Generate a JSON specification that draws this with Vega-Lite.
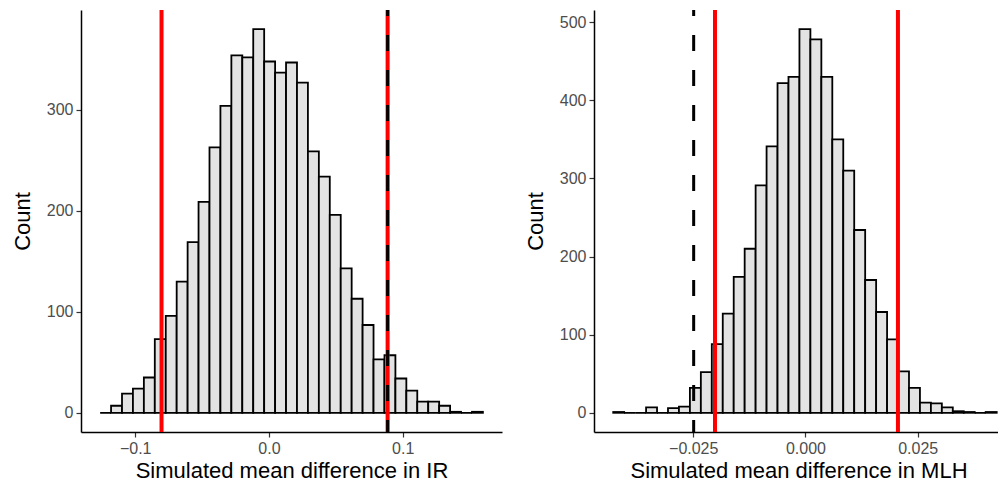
{
  "$schema": "https://vega.github.io/schema/vega-lite/v6.json",
  "background": "white",
  "padding": {"left": 11, "top": 8, "right": 0, "bottom": 5},
  "spacing": 22,
  "config": {
    "view": {"stroke": null},
    "font": "Liberation Sans",
    "axis": {
      "grid": false,
      "domainColor": "black",
      "domainWidth": 1.5,
      "tickColor": "#333333",
      "tickWidth": 1.2,
      "tickSize": 5,
      "labelColor": "#4d4d4d",
      "labelFontSize": 16,
      "labelFont": "Liberation Sans",
      "labelPadding": 3,
      "titleFontSize": 22,
      "titleFontWeight": "normal",
      "titleColor": "black",
      "titleFont": "Liberation Sans"
    }
  },
  "datasets": {
    "ir": [
      {"b0": -0.12620, "b1": -0.11803, "count": 0},
      {"b0": -0.11803, "b1": -0.10985, "count": 7},
      {"b0": -0.10985, "b1": -0.10168, "count": 19},
      {"b0": -0.10168, "b1": -0.09350, "count": 24},
      {"b0": -0.09350, "b1": -0.08533, "count": 35},
      {"b0": -0.08533, "b1": -0.07715, "count": 73},
      {"b0": -0.07715, "b1": -0.06898, "count": 96},
      {"b0": -0.06898, "b1": -0.06080, "count": 130},
      {"b0": -0.06080, "b1": -0.05263, "count": 169},
      {"b0": -0.05263, "b1": -0.04445, "count": 209},
      {"b0": -0.04445, "b1": -0.03628, "count": 263},
      {"b0": -0.03628, "b1": -0.02810, "count": 304},
      {"b0": -0.02810, "b1": -0.01993, "count": 354},
      {"b0": -0.01993, "b1": -0.01175, "count": 352},
      {"b0": -0.01175, "b1": -0.00358, "count": 380},
      {"b0": -0.00358, "b1": 0.00460, "count": 348},
      {"b0": 0.00460, "b1": 0.01277, "count": 337},
      {"b0": 0.01277, "b1": 0.02095, "count": 347},
      {"b0": 0.02095, "b1": 0.02912, "count": 327},
      {"b0": 0.02912, "b1": 0.03730, "count": 259},
      {"b0": 0.03730, "b1": 0.04547, "count": 234},
      {"b0": 0.04547, "b1": 0.05365, "count": 196},
      {"b0": 0.05365, "b1": 0.06182, "count": 143},
      {"b0": 0.06182, "b1": 0.07000, "count": 113},
      {"b0": 0.07000, "b1": 0.07817, "count": 87},
      {"b0": 0.07817, "b1": 0.08635, "count": 53},
      {"b0": 0.08635, "b1": 0.09452, "count": 57},
      {"b0": 0.09452, "b1": 0.10270, "count": 34},
      {"b0": 0.10270, "b1": 0.11087, "count": 22},
      {"b0": 0.11087, "b1": 0.11905, "count": 11},
      {"b0": 0.11905, "b1": 0.12722, "count": 11},
      {"b0": 0.12722, "b1": 0.13540, "count": 7},
      {"b0": 0.13540, "b1": 0.14357, "count": 1},
      {"b0": 0.14357, "b1": 0.15175, "count": 0},
      {"b0": 0.15175, "b1": 0.15992, "count": 1}
    ],
    "irLines": [
      {"x": -0.0803, "kind": "ci"},
      {"x": 0.0887, "kind": "ci"}
    ],
    "irObs": [{"x": 0.0887}],
    "mlh": [
      {"b0": -0.04282, "b1": -0.04038, "count": 1},
      {"b0": -0.04038, "b1": -0.03794, "count": 0},
      {"b0": -0.03794, "b1": -0.03550, "count": 0},
      {"b0": -0.03550, "b1": -0.03306, "count": 7},
      {"b0": -0.03306, "b1": -0.03062, "count": 0},
      {"b0": -0.03062, "b1": -0.02818, "count": 6},
      {"b0": -0.02818, "b1": -0.02574, "count": 8},
      {"b0": -0.02574, "b1": -0.02330, "count": 32},
      {"b0": -0.02330, "b1": -0.02086, "count": 52},
      {"b0": -0.02086, "b1": -0.01842, "count": 88},
      {"b0": -0.01842, "b1": -0.01598, "count": 127},
      {"b0": -0.01598, "b1": -0.01354, "count": 174},
      {"b0": -0.01354, "b1": -0.01110, "count": 210},
      {"b0": -0.01110, "b1": -0.00866, "count": 291},
      {"b0": -0.00866, "b1": -0.00622, "count": 341},
      {"b0": -0.00622, "b1": -0.00378, "count": 422},
      {"b0": -0.00378, "b1": -0.00134, "count": 430},
      {"b0": -0.00134, "b1": 0.00110, "count": 491},
      {"b0": 0.00110, "b1": 0.00354, "count": 478},
      {"b0": 0.00354, "b1": 0.00598, "count": 430},
      {"b0": 0.00598, "b1": 0.00842, "count": 350},
      {"b0": 0.00842, "b1": 0.01086, "count": 310},
      {"b0": 0.01086, "b1": 0.01330, "count": 234},
      {"b0": 0.01330, "b1": 0.01574, "count": 170},
      {"b0": 0.01574, "b1": 0.01818, "count": 129},
      {"b0": 0.01818, "b1": 0.02062, "count": 94},
      {"b0": 0.02062, "b1": 0.02306, "count": 53},
      {"b0": 0.02306, "b1": 0.02550, "count": 32},
      {"b0": 0.02550, "b1": 0.02794, "count": 13},
      {"b0": 0.02794, "b1": 0.03038, "count": 12},
      {"b0": 0.03038, "b1": 0.03282, "count": 7},
      {"b0": 0.03282, "b1": 0.03526, "count": 2},
      {"b0": 0.03526, "b1": 0.03770, "count": 1},
      {"b0": 0.03770, "b1": 0.04014, "count": 0},
      {"b0": 0.04014, "b1": 0.04260, "count": 1}
    ],
    "mlhLines": [
      {"x": -0.02015, "kind": "ci"},
      {"x": 0.0206, "kind": "ci"}
    ],
    "mlhObs": [{"x": -0.0249}]
  },
  "hconcat": [
    {
      "width": 421,
      "height": 422,
      "layer": [
        {
          "data": {"name": "ir"},
          "mark": {"type": "bar", "fill": "#e3e3e3", "stroke": "black", "strokeWidth": 1.8},
          "encoding": {
            "x": {"field": "b0", "type": "quantitative", "scale": {"domain": [-0.1405, 0.1742], "nice": false, "zero": false},
              "axis": {"values": [-0.1, 0, 0.1], "format": ".1f", "title": "Simulated mean difference in IR", "titlePadding": 4}},
            "x2": {"field": "b1"},
            "y": {"field": "count", "type": "quantitative", "scale": {"domain": [-19, 399], "nice": false, "zero": false},
              "axis": {"values": [0, 100, 200, 300], "title": "Count", "titlePadding": 12}},
            "y2": {"datum": 0}
          }
        },
        {
          "data": {"name": "irLines"},
          "mark": {"type": "rule", "color": "#ff0000", "strokeWidth": 4},
          "encoding": {"x": {"field": "x", "type": "quantitative"}}
        },
        {
          "data": {"name": "irObs"},
          "mark": {"type": "rule", "color": "black", "strokeWidth": 3, "strokeDash": [16, 19], "strokeDashOffset": 10},
          "encoding": {"x": {"field": "x", "type": "quantitative"}}
        }
      ]
    },
    {
      "width": 409,
      "height": 422,
      "layer": [
        {
          "data": {"name": "mlh"},
          "mark": {"type": "bar", "fill": "#e3e3e3", "stroke": "black", "strokeWidth": 1.8},
          "encoding": {
            "x": {"field": "b0", "type": "quantitative", "scale": {"domain": [-0.0471, 0.044], "nice": false, "zero": false},
              "axis": {"values": [-0.025, 0, 0.025], "format": ".3f", "title": "Simulated mean difference in MLH", "titlePadding": 4}},
            "x2": {"field": "b1"},
            "y": {"field": "count", "type": "quantitative", "scale": {"domain": [-24.6, 515.6], "nice": false, "zero": false},
              "axis": {"values": [0, 100, 200, 300, 400, 500], "title": "Count", "titlePadding": 12}},
            "y2": {"datum": 0}
          }
        },
        {
          "data": {"name": "mlhLines"},
          "mark": {"type": "rule", "color": "#ff0000", "strokeWidth": 4},
          "encoding": {"x": {"field": "x", "type": "quantitative"}}
        },
        {
          "data": {"name": "mlhObs"},
          "mark": {"type": "rule", "color": "black", "strokeWidth": 3, "strokeDash": [16, 19], "strokeDashOffset": 10},
          "encoding": {"x": {"field": "x", "type": "quantitative"}}
        }
      ]
    }
  ]
}
